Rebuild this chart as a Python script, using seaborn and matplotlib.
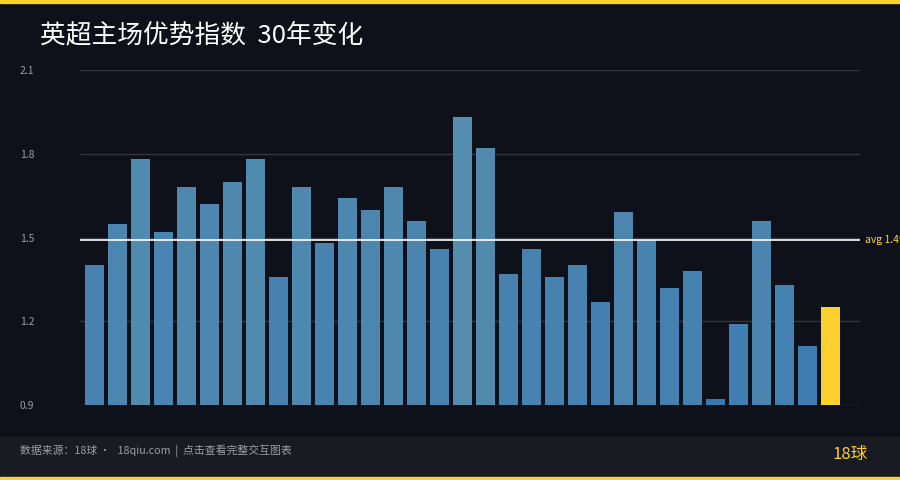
import numpy as np
import pandas as pd
import matplotlib.pyplot as plt
import seaborn as sns
from matplotlib.patches import Rectangle

# home advantage index per season (33 seasons, last one highlighted)
values = [1.40, 1.55, 1.78, 1.52, 1.68, 1.62, 1.70, 1.78, 1.36, 1.68,
          1.48, 1.64, 1.60, 1.68, 1.56, 1.46, 1.93, 1.82, 1.37, 1.46,
          1.36, 1.40, 1.27, 1.59, 1.49, 1.32, 1.38, 0.92, 1.19, 1.56,
          1.33, 1.11, 1.25]
avg_value = 1.49
yticks = [0.9, 1.2, 1.5, 1.8, 2.1]
title = "英超主场优势指数  30年变化"
source = "数据来源：18球 ·   18qiu.com  |  点击查看完整交互图表"
brand = "18球"

BG = "#0e111a"
FOOT = "#181b22"
YELLOW = "#fcd02f"
GRID = "#33363e"
TICK = "#9a9ea6"

df = pd.DataFrame({"idx": range(len(values)), "value": values})

# bar colour follows the value, the latest season in yellow
cmap = sns.blend_palette(["#3a78b2", "#558dae"], as_cmap=True)
norm = (np.array(values) - 0.9) / (1.95 - 0.9)
colors = [cmap(v) for v in norm]
colors[-1] = YELLOW

sns.set_style("dark")
plt.rcParams["font.family"] = ["Noto Sans CJK SC", "DejaVu Sans"]

fig = plt.figure(figsize=(9, 4.8), dpi=100, facecolor=BG)
ax = fig.add_axes([80 / 900, 1 - 405 / 480, 780 / 900, 335 / 480])
ax.set_facecolor(BG)

sns.barplot(data=df, x="idx", y="value", hue="idx", palette=colors,
            legend=False, width=0.826, ax=ax, saturation=1, linewidth=0)

ax.set_ylim(0.9, 2.1)
ax.set_xlim(-0.63, 33.28)
ax.set_yticks(yticks)
ax.set_yticklabels([str(t) for t in yticks])
ax.set_xticks([])
ax.set_xlabel("")
ax.set_ylabel("")
for s in ax.spines.values():
    s.set_visible(False)
ax.grid(False)
for t in yticks:
    ax.axhline(t, color=GRID, lw=1, zorder=0)
ax.tick_params(axis="y", length=0, pad=43.2, labelsize=7.5, labelcolor=TICK)
for lab in ax.get_yticklabels():
    lab.set_ha("left")

# average line
ax.axhline(avg_value, color="white", lw=1.2, zorder=3)
ax.text(1.006, avg_value, f"avg {avg_value:.2f}", transform=ax.get_yaxis_transform(),
        color=YELLOW, fontsize=7.5, va="center", ha="left", clip_on=False)

# frame: yellow strips and footer band
fig.patches.append(Rectangle((0, 1 - 3 / 480), 1, 3 / 480, transform=fig.transFigure,
                             color=YELLOW, zorder=0))
fig.patches.append(Rectangle((0, 3 / 480), 1, 40 / 480, transform=fig.transFigure,
                             color=FOOT, zorder=0))
fig.patches.append(Rectangle((0, 0), 1, 3 / 480, transform=fig.transFigure,
                             color=YELLOW, zorder=0))

fig.text(40 / 900, 1 - 35 / 480, title, color="white", fontsize=18.5, va="center", ha="left")
fig.text(20 / 900, 1 - 451 / 480, source, color=TICK, fontsize=7.8, va="center", ha="left")
fig.text(868 / 900, 1 - 454 / 480, brand, color=YELLOW, fontsize=12, va="center", ha="right")

fig.savefig("out.png", dpi=100, facecolor=BG)
